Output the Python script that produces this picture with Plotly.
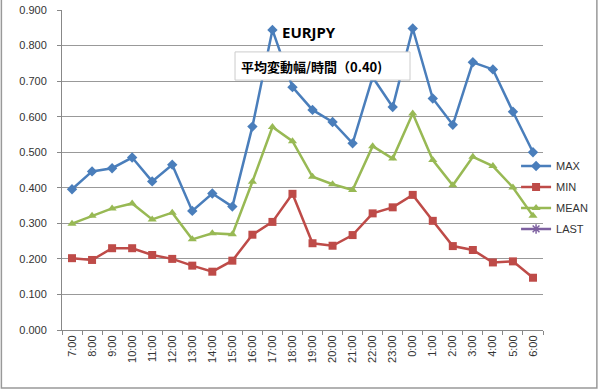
import plotly.graph_objects as go

hours = ["7:00", "8:00", "9:00", "10:00", "11:00", "12:00", "13:00", "14:00", "15:00",
         "16:00", "17:00", "18:00", "19:00", "20:00", "21:00", "22:00", "23:00", "0:00",
         "1:00", "2:00", "3:00", "4:00", "5:00", "6:00"]
max_vals = [0.396, 0.446, 0.455, 0.485, 0.418, 0.465, 0.335, 0.384, 0.347,
            0.572, 0.844, 0.683, 0.619, 0.585, 0.525, 0.711, 0.627, 0.848,
            0.651, 0.577, 0.753, 0.733, 0.614, 0.500]
min_vals = [0.202, 0.197, 0.230, 0.230, 0.211, 0.200, 0.181, 0.164, 0.195,
            0.268, 0.304, 0.383, 0.244, 0.237, 0.267, 0.328, 0.345, 0.380,
            0.307, 0.236, 0.225, 0.190, 0.193, 0.147]
mean_vals = [0.299, 0.321, 0.342, 0.356, 0.311, 0.330, 0.255, 0.272, 0.269,
             0.417, 0.571, 0.531, 0.431, 0.410, 0.394, 0.517, 0.482, 0.609,
             0.478, 0.407, 0.487, 0.461, 0.401, 0.321]
last_vals = [None] * len(hours)
y_ticks = [0.0, 0.1, 0.2, 0.3, 0.4, 0.5, 0.6, 0.7, 0.8, 0.9]

fig = go.Figure()
fig.add_trace(go.Scatter(x=hours, y=max_vals, name="MAX", mode="lines+markers",
                         legendgroup="g1",
                         line=dict(color="#4A7EBB", width=2.5),
                         marker=dict(symbol="diamond", size=8, color="#4A7EBB")))
fig.add_trace(go.Scatter(x=hours, y=min_vals, name="MIN", mode="lines+markers",
                         legendgroup="g2",
                         line=dict(color="#BE4B48", width=2.5),
                         marker=dict(symbol="square", size=8, color="#BE4B48")))
fig.add_trace(go.Scatter(x=hours, y=mean_vals, name="MEAN", mode="lines+markers",
                         legendgroup="g3",
                         line=dict(color="#98B954", width=2.5),
                         marker=dict(symbol="triangle-up", size=8, color="#98B954")))
fig.add_trace(go.Scatter(x=hours, y=last_vals, name="LAST", mode="lines+markers",
                         legendgroup="g4",
                         line=dict(color="#7D60A0", width=2.5),
                         marker=dict(symbol="asterisk-open", size=8,
                                     line=dict(color="#7D60A0", width=1.5))))

font_main = "Liberation Sans, Arial, sans-serif"

fig.update_layout(
    width=598, height=391,
    margin=dict(l=62, r=55, t=10, b=61, autoexpand=False),
    paper_bgcolor="white", plot_bgcolor="white",
    font=dict(family=font_main, size=11, color="#333333"),
    showlegend=True,
    hovermode=False,
    legend=dict(x=0.944, y=0.558, xanchor="left", yanchor="top",
                bgcolor="rgba(0,0,0,0)", font=dict(size=11, color="#333333"),
                traceorder="grouped", tracegroupgap=2),
    xaxis=dict(type="category", tickangle=-90, showgrid=False,
               range=[-0.5, len(hours) - 0.5],
               showline=True, linecolor="#888888", linewidth=1,
               ticks="outside", ticklen=4, tickcolor="#888888",
               tickson="boundaries", tickfont=dict(size=11, color="#333333")),
    yaxis=dict(range=[0, 0.9], tickvals=y_ticks, tickformat=".3f",
               showgrid=True, gridcolor="#999999", gridwidth=1,
               showline=True, linecolor="#888888", linewidth=1,
               ticks="outside", ticklen=4, tickcolor="#888888",
               ticklabelstandoff=8, zeroline=False,
               tickfont=dict(size=11, color="#333333")),
)

# outer chart border
fig.add_shape(type="rect", xref="paper", yref="paper",
              x0=-0.126, x1=1.112, y0=-0.181, y1=1.06,
              line=dict(color="#999999", width=1.5), fillcolor="rgba(0,0,0,0)")

# subtitle box
fig.add_shape(type="rect", xref="paper", yref="paper",
              x0=0.3597, x1=0.7235, y0=0.781, y1=0.869, layer="above",
              line=dict(color="#CCCCCC", width=1), fillcolor="white")

fig.add_annotation(text="<b>EURJPY</b>", xref="paper", yref="paper",
                   x=0.5135, y=0.93, xanchor="center", yanchor="middle",
                   showarrow=False,
                   font=dict(family="Noto Sans, sans-serif", size=15, color="#000000"))
fig.add_annotation(text="<b>平均変動幅/時間（0.40)</b>", xref="paper", yref="paper",
                   x=0.368, y=0.825, xanchor="left", yanchor="middle",
                   showarrow=False,
                   font=dict(family="Noto Sans CJK JP, sans-serif", size=13, color="#000000"))

# remove the browser's default 8px body margin so the figure sits at the page origin
fig.write_html("out.html", config={"displayModeBar": False},
               post_script="document.body.style.margin='0px';")
